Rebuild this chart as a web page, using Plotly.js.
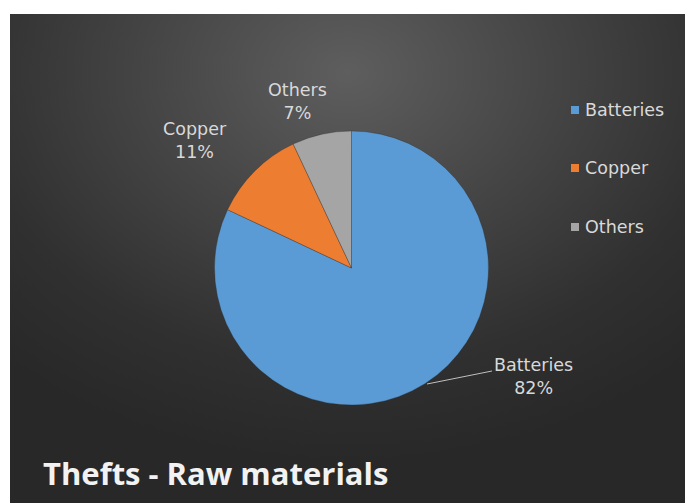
<!DOCTYPE html>
<html>
<head>
<meta charset="utf-8">
<script src="https://cdn.plot.ly/plotly-3.0.1.min.js"></script>
<style>
  html, body { margin: 0; padding: 0; background: #ffffff; }
  #bg {
    position: absolute; left: 10px; top: 14px; width: 675px; height: 489px;
    background: radial-gradient(ellipse 75% 80% at 50% 12%, #5e5e5e 0%, #454545 40%, #303030 75%, #282828 100%);
  }
  #chart { position: absolute; left: 0; top: 0; width: 685px; height: 503px; }
</style>
</head>
<body>
<div id="bg"></div>
<div id="chart"></div>
<script>
const categories = ["Batteries", "Copper", "Others"];
const values = [82, 11, 7];
const colors = ["#5B9BD5", "#ED7D31", "#A5A5A5"];
const chartTitle = "Thefts - Raw materials";

const total = values.reduce((a, b) => a + b, 0);
const pct = values.map(v => Math.round(v / total * 100) + "%");

const W = 685, H = 503;
const px = x => x / W;
const py = y => 1 - y / H;

const pie = {
  type: "pie",
  labels: categories,
  values: values,
  sort: false,
  direction: "clockwise",
  rotation: 0,
  marker: { colors: colors, line: { color: "rgba(40,40,40,0.6)", width: 0.5 } },
  textinfo: "none",
  hoverinfo: "label+percent",
  showlegend: false,
  domain: { x: [px(351.5 - 137), px(351.5 + 137)], y: [py(268 + 137), py(268 - 137)] }
};

const font = "DejaVu Sans, sans-serif";
const titleFont = "Open Sans, Noto Sans, sans-serif";
const labelPos = [[533, 376], [195, 140], [297, 101]];
const labelFont = { family: font, size: 17.5, color: "#d9d9d9" };
const annotations = categories.map((c, i) => ({
  xref: "paper", yref: "paper",
  x: px(labelPos[i][0]), y: py(labelPos[i][1]),
  xanchor: "center", yanchor: "middle",
  text: c + "<br>" + pct[i],
  showarrow: false, font: labelFont, align: "center"
}));

// legend (drawn as markers + text to match the compact original layout)
const legendY = [110, 168, 227];
const shapes = [];
categories.forEach((c, i) => {
  annotations.push({
    xref: "paper", yref: "paper", x: px(583), y: py(legendY[i]),
    xanchor: "left", yanchor: "middle", text: c, showarrow: false,
    font: { family: font, size: 17.5, color: "#d9d9d9" }
  });
  shapes.push({
    type: "rect", xref: "paper", yref: "paper",
    x0: px(571), x1: px(579), y0: py(legendY[i] + 4), y1: py(legendY[i] - 4),
    fillcolor: colors[i], line: { width: 0 }
  });
});

annotations.push({
  xref: "paper", yref: "paper", x: px(41), y: py(473),
  xanchor: "left", yanchor: "middle",
  text: "<b>" + chartTitle + "</b>", showarrow: false,
  font: { family: titleFont, size: 31, color: "#f2f2f2" }
});

shapes.push({
  type: "line", xref: "paper", yref: "paper",
  x0: px(427), y0: py(384), x1: px(492), y1: py(371),
  line: { color: "#bfbfbf", width: 1 }
});

const layout = {
  width: W, height: H,
  margin: { l: 0, r: 0, t: 0, b: 0 },
  paper_bgcolor: "rgba(0,0,0,0)",
  plot_bgcolor: "rgba(0,0,0,0)",
  showlegend: false,
  shapes: shapes,
  annotations: annotations
};

Plotly.newPlot("chart", [pie], layout, { displayModeBar: false, staticPlot: true });
</script>
</body>
</html>
